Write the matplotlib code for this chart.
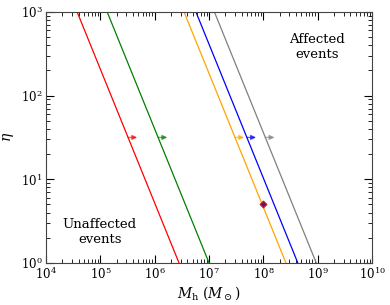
import numpy as np
import matplotlib
matplotlib.use("Agg")
import matplotlib.pyplot as plt

plt.rcParams['font.family'] = 'serif'
plt.rcParams['font.serif'] = ['DejaVu Serif']
plt.rcParams['mathtext.fontset'] = 'dejavuserif'

# mass at which eta = 1 for each line, eta ~ (M / M1)^(-1.6)
m_eta1 = [2.8e6, 1.0e7, 2.6e8, 4.3e8, 9.4e8]
colors = ['red', 'green', 'orange', 'blue', 'gray']
slope = -1.6
eta_arrow = 31.6
marker_m = [1.0e8]
marker_eta = [5.0]

fig = plt.figure(figsize=(3.9, 3.05), dpi=100)
ax = fig.add_axes([0.118, 0.138, 0.836, 0.823])

eta = np.logspace(0, 3, 50)
for m1, c in zip(m_eta1, colors):
    m = m1 * eta ** (1 / slope)
    ax.plot(m, eta, color=c, lw=0.9)
    m_a = m1 * eta_arrow ** (1 / slope)
    ax.annotate('', xy=(m_a * 1.48, eta_arrow), xytext=(m_a, eta_arrow),
                arrowprops=dict(arrowstyle='-|>', color=c, alpha=0.6, lw=1.0,
                                mutation_scale=7, shrinkA=0, shrinkB=0))

ax.plot(marker_m, marker_eta, marker='D', ms=3.5, mfc='#5b1a6e', mec='#c0203a', mew=0.8, ls='none')

ax.set_xscale('log')
ax.set_yscale('log')
ax.set_xlim(1e4, 1e10)
ax.set_ylim(1, 1e3)
ax.tick_params(which='both', direction='in', top=True, right=True, labelsize=8.5, pad=2.5)
ax.tick_params(which='major', length=6)
ax.tick_params(which='minor', length=3)
for s in ax.spines.values():
    s.set_color('#444444')

ax.text(0.83, 0.86, 'Affected\nevents', transform=ax.transAxes, ha='center', va='center', fontsize=9.5)
ax.text(0.165, 0.125, 'Unaffected\nevents', transform=ax.transAxes, ha='center', va='center', fontsize=9.5)

ax.set_xlabel(r'$M_{\rm h}$ $(M_\odot)$', fontsize=10)
ax.set_ylabel(r'$\eta$', fontsize=10)
ax.xaxis.set_label_coords(0.5, -0.085)
ax.yaxis.set_label_coords(-0.092, 0.5)

fig.savefig('out.png', dpi=100)
